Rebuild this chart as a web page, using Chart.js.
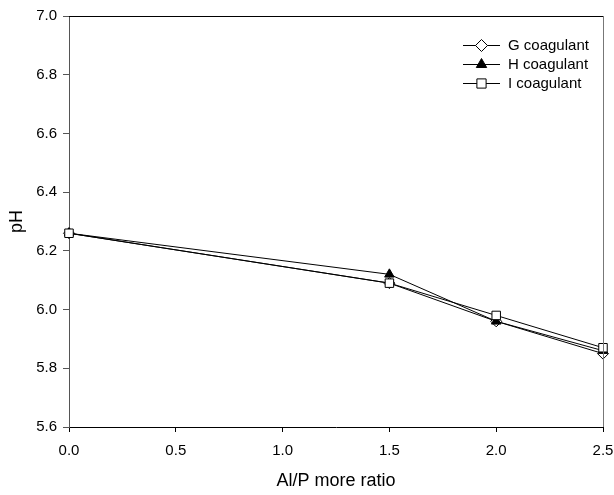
<!DOCTYPE html>
<html>
<head>
<meta charset="utf-8">
<script src="https://cdn.jsdelivr.net/npm/chart.js@4"></script>
<style>
  html, body { margin: 0; padding: 0; background: #fff; }
  #wrap { width: 614px; height: 495px; }
</style>
</head>
<body>
<div id="wrap"><canvas id="chart"></canvas></div>
<script>
// Al/P ratio vs pH
const ratios = [0.0, 1.5, 2.0, 2.5];
const gValues = [6.26, 6.09, 5.96, 5.85];
const hValues = [6.26, 6.12, 5.96, 5.86];
const iValues = [6.26, 6.09, 5.98, 5.87];
const seriesNames = ['G coagulant', 'H coagulant', 'I coagulant'];

const FONT = 'Liberation Sans, Arial, sans-serif';

function pts(vals) {
  return ratios.map((x, i) => ({ x: x, y: vals[i] }));
}

// box around plot area: top + right edges
const frame = {
  id: 'frame',
  afterDraw(chart) {
    const a = chart.chartArea, ctx = chart.ctx;
    ctx.save();
    ctx.lineWidth = 1;
    ctx.strokeStyle = '#000';
    ctx.beginPath();
    ctx.moveTo(a.left, a.top + 0.5);
    ctx.lineTo(a.right, a.top + 0.5);
    ctx.stroke();
    ctx.strokeStyle = '#777';
    ctx.beginPath();
    ctx.moveTo(a.right + 0.5, a.top);
    ctx.lineTo(a.right + 0.5, a.bottom);
    ctx.stroke();
    ctx.restore();
  }
};

// legend with line + marker, inside the plot
const lineLegend = {
  id: 'lineLegend',
  afterDraw(chart) {
    const ctx = chart.ctx;
    ctx.save();
    ctx.font = '15px ' + FONT;
    ctx.textBaseline = 'middle';
    chart.data.datasets.forEach((ds, i) => {
      const y = 45 + i * 19;
      ctx.strokeStyle = '#000';
      ctx.lineWidth = 1;
      ctx.beginPath();
      ctx.moveTo(463, y + 0.5);
      ctx.lineTo(500, y + 0.5);
      ctx.stroke();
      ctx.fillStyle = ds.pointBackgroundColor;
      Chart.helpers.drawPoint(ctx, {
        pointStyle: ds.pointStyle,
        radius: ds.pointRadius + 0.5,
        rotation: 0,
        borderWidth: 1
      }, 481.5, y + 0.5);
      ctx.fillStyle = '#000';
      ctx.fillText(ds.label, 508, y + 1);
    });
    ctx.restore();
  }
};

const common = {
  borderColor: '#000',
  borderWidth: 1,
  pointBorderColor: '#000',
  pointBorderWidth: 1,
  tension: 0,
  clip: false
};

new Chart(document.getElementById('chart').getContext('2d'), {
  type: 'line',
  data: {
    datasets: [
      Object.assign({}, common, {
        label: seriesNames[0],
        data: pts(gValues),
        pointStyle: 'rectRot',
        pointRadius: 5.5,
        pointBackgroundColor: '#fff',
        order: 2
      }),
      Object.assign({}, common, {
        label: seriesNames[1],
        data: pts(hValues),
        pointStyle: 'triangle',
        pointRadius: 5.5,
        pointBackgroundColor: '#000',
        order: 1
      }),
      Object.assign({}, common, {
        label: seriesNames[2],
        data: pts(iValues),
        pointStyle: 'rect',
        pointRadius: 6,
        pointBackgroundColor: '#fff',
        order: 0
      })
    ]
  },
  options: {
    responsive: true,
    maintainAspectRatio: false,
    animation: false,
    layout: { padding: { left: 0, right: 11, top: 16, bottom: 0 } },
    plugins: { legend: { display: false }, tooltip: { enabled: false } },
    scales: {
      x: {
        type: 'linear',
        min: 0,
        max: 2.5,
        // fixed box so the plot lands where the original one is
        afterFit(s) { s.height = 68; s.paddingLeft = 0; s.paddingRight = 0; },
        ticks: {
          stepSize: 0.5,
          color: '#000',
          padding: 10,
          maxRotation: 0,
          font: { family: FONT, size: 15 },
          callback: v => v.toFixed(1)
        },
        grid: { drawOnChartArea: false, tickLength: 5, color: '#000' },
        border: { color: '#000', width: 1 },
        title: {
          display: true,
          text: 'Al/P more ratio',
          color: '#000',
          font: { family: FONT, size: 18 },
          padding: { top: 4, bottom: 3 }
        }
      },
      y: {
        min: 5.6,
        max: 7.0,
        afterFit(s) { s.width = 69; },
        ticks: {
          stepSize: 0.2,
          color: '#000',
          padding: 6,
          font: { family: FONT, size: 15 },
          callback: v => v.toFixed(1)
        },
        grid: { drawOnChartArea: false, tickLength: 6, color: '#555' },
        border: { color: '#555', width: 1 },
        title: {
          display: true,
          text: 'pH',
          color: '#000',
          font: { family: FONT, size: 18 },
          padding: { top: 6, bottom: 4 }
        }
      }
    }
  },
  plugins: [frame, lineLegend]
});
</script>
</body>
</html>
